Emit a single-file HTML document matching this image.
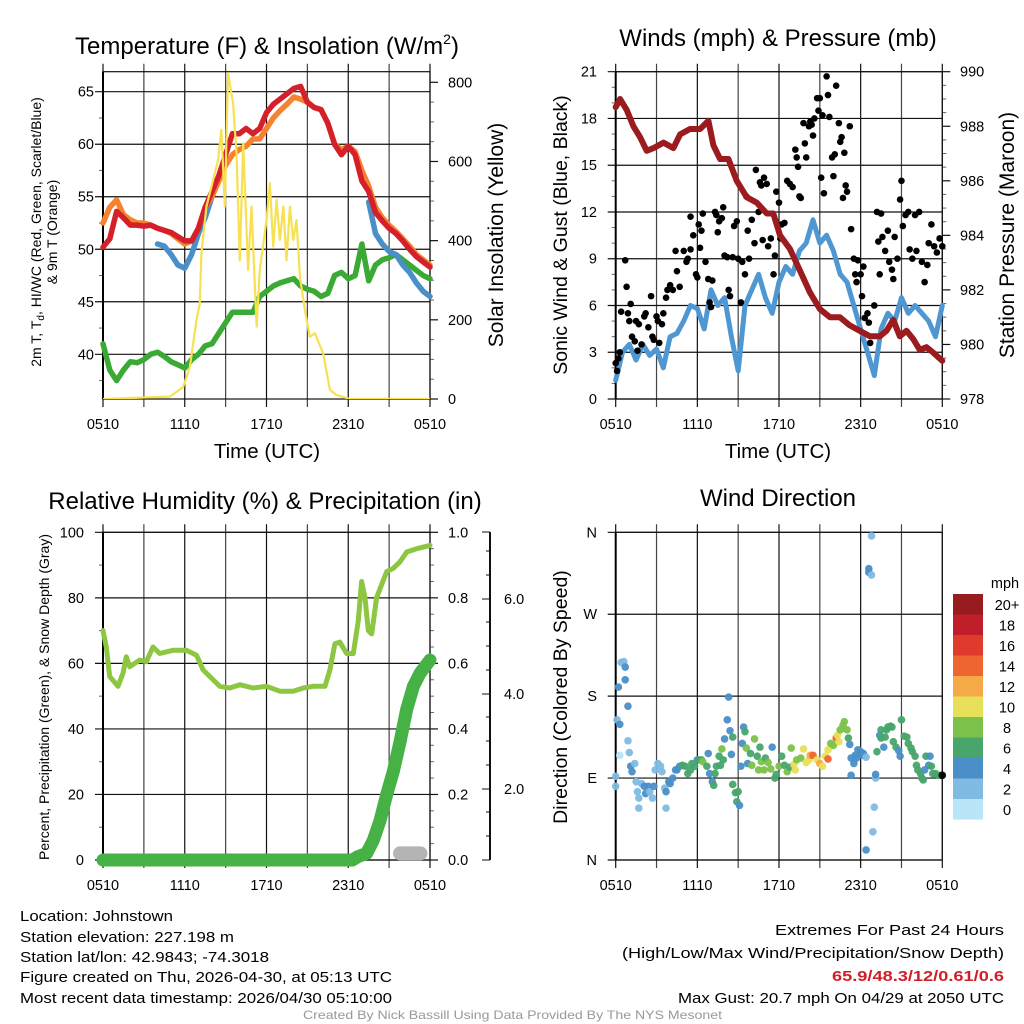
<!DOCTYPE html>
<html><head><meta charset="utf-8"><style>
html,body{margin:0;padding:0;background:#fff;}
svg{display:block;font-family:"Liberation Sans",sans-serif;}
</style></head><body>
<svg id="chart" width="1024" height="1024" viewBox="0 0 1024 1024" xmlns="http://www.w3.org/2000/svg">
<rect x="0" y="0" width="1024" height="1024" fill="#fff"/>
<!-- Titles -->
<text x="267" y="54" font-size="24" text-anchor="middle">Temperature (F) &amp; Insolation (W/m<tspan font-size="14" dy="-10">2</tspan><tspan dy="10">)</tspan></text>
<text x="778" y="46" font-size="24" text-anchor="middle">Winds (mph) &amp; Pressure (mb)</text>
<text x="265" y="509" font-size="24" text-anchor="middle">Relative Humidity (%) &amp; Precipitation (in)</text>
<text x="778" y="506" font-size="24" text-anchor="middle">Wind Direction</text>
<!-- axis titles -->
<text x="267" y="458" font-size="20.5" text-anchor="middle">Time (UTC)</text>
<text x="778" y="458" font-size="20.5" text-anchor="middle">Time (UTC)</text>
<text transform="translate(41,232) rotate(-90)" font-size="14" text-anchor="middle">2m T, T<tspan font-size="10" dy="3">d</tspan><tspan dy="-3">, HI/WC (Red, Green, Scarlet/Blue)</tspan></text>
<text transform="translate(57,232) rotate(-90)" font-size="14" text-anchor="middle">&amp; 9m T (Orange)</text>
<text transform="translate(503,235) rotate(-90)" font-size="21" text-anchor="middle">Solar Insolation (Yellow)</text>
<text transform="translate(567,235) rotate(-90)" font-size="19.5" text-anchor="middle">Sonic Wind &amp; Gust (Blue, Black)</text>
<text transform="translate(1014,235) rotate(-90)" font-size="21" text-anchor="middle">Station Pressure (Maroon)</text>
<text transform="translate(49,697) rotate(-90)" font-size="14" text-anchor="middle">Percent, Precipitation (Green), &amp; Snow Depth (Gray)</text>
<text transform="translate(567,697) rotate(-90)" font-size="19.5" text-anchor="middle">Direction (Colored By Speed)</text>
<g id="layer"></g>
<!-- footer -->
<g font-size="15">
<text x="20" y="921" textLength="153" lengthAdjust="spacingAndGlyphs">Location: Johnstown</text>
<text x="20" y="942" textLength="214" lengthAdjust="spacingAndGlyphs">Station elevation: 227.198 m</text>
<text x="20" y="962" textLength="249" lengthAdjust="spacingAndGlyphs">Station lat/lon: 42.9843; -74.3018</text>
<text x="20" y="982" textLength="372" lengthAdjust="spacingAndGlyphs">Figure created on Thu, 2026-04-30, at 05:13 UTC</text>
<text x="20" y="1003" textLength="372" lengthAdjust="spacingAndGlyphs">Most recent data timestamp: 2026/04/30 05:10:00</text>
</g>
<g font-size="15">
<text x="775" y="935" textLength="229" lengthAdjust="spacingAndGlyphs">Extremes For Past 24 Hours</text>
<text x="622" y="958" textLength="382" lengthAdjust="spacingAndGlyphs">(High/Low/Max Wind/Precipitation/Snow Depth)</text>
<text x="832" y="981" textLength="172" lengthAdjust="spacingAndGlyphs" fill="#d01f2a" font-weight="bold">65.9/48.3/12/0.61/0.6</text>
<text x="678" y="1003" textLength="326" lengthAdjust="spacingAndGlyphs">Max Gust: 20.7 mph On 04/29 at 2050 UTC</text>
</g>
<text x="303" y="1019" font-size="12" fill="#999" textLength="419" lengthAdjust="spacingAndGlyphs">Created By Nick Bassill Using Data Provided By The NYS Mesonet</text>
</svg>
<script>
const xTickHours = [0,3,6,9,12,15,18,21,24];
const xTickText = ["0510","","1110","","1710","","2310","","0510"];
const halfHour = [0,0.5,1,1.5,2,2.5,3,3.5,4,4.5,5,5.5,6,6.5,7,7.5,8,8.5,9,9.5,10,10.5,11,11.5,12,12.5,13,13.5,14,14.5,15,15.5,16,16.5,17,17.5,18,18.5,19,19.5,20,20.5,21,21.5,22,22.5,23,23.5,24];
const tempRed = [50.2,51,53.6,53,52.3,52.3,52.2,52.3,52,51.8,51.6,51.2,50.8,50.8,52,54,55.5,57,59,61,61,61.5,61,61.5,63,63.8,64.3,64.8,65.3,65.5,64,63.5,63.3,62,60,59,59.8,59,56.5,55.5,53.5,52.7,52,51.5,50.8,50,49.3,48.8,48.3];
const temp9m = [52.5,54,54.7,53.3,52.8,52.5,52.5,52.3,52,51.8,51.5,51,50.5,50.8,52,54,55,56.5,58,59,59.5,59.8,60.5,60.5,61.5,62.5,63.2,63.8,64.5,64.3,64,63.5,63.3,62,60,59.5,59.8,59.3,57.5,56,54,53,52.3,51.7,51,50.3,49.5,49,48.5];
const dewpoint = [41,38.5,37.5,38.5,39.3,39.2,39.5,40,40.2,39.8,39.3,39,38.7,39.5,40,40.8,41,42,43,44,44,44,44,45.5,46,46.5,46.8,47,47.2,46.5,46.2,46,45.5,45.8,47.5,47.8,47.2,47.5,50.5,47,48.5,49,49.2,49.5,49,48.5,48,47.5,47.2];
const heatIndex = [null,null,null,null,null,null,null,null,50.5,50.3,49.5,48.5,48.2,49.5,51.5,53,55,null,null,null,null,null,null,null,null,null,null,null,null,null,null,null,null,null,58,null,null,null,null,54.5,51.5,50.5,49.8,49.5,48.5,47.8,46.8,46,45.5];
const solarHours = [0,4.9,5.88,6.37,6.86,7.1,7.22,7.59,8.08,8.45,8.69,8.94,9.18,9.55,9.8,10.04,10.29,10.65,10.9,11.27,11.51,12.0,12.25,12.49,12.74,12.98,13.23,13.47,13.72,13.96,14.2,14.45,14.82,15.18,15.55,16.16,16.65,17.14,18.12,24];
const solarValues = [0,6,30,80,200,240,368,486,553,604,680,486,823,747,620,350,646,326,486,183,326,452,545,385,503,402,486,350,486,402,452,309,225,157,166,115,23,10,0,0];
const windSpeed = [1.2,3,3.5,2.5,3.5,2.8,3.2,2,4,4.2,5,6,5.8,4.5,7,6,6.5,4,1.8,6,7,8,6.5,5.5,7.5,8.5,8,9.5,10,11.5,10,10.5,9.5,8,7.5,6,4.5,3,1.5,4.5,5.5,5,6.5,5.5,6,5.5,5,4,6];
const pressureHours = [0,0.32,0.81,1.3,1.79,2.28,2.78,3.51,4.24,4.73,5.46,6.2,6.81,7.18,7.67,8.28,8.89,9.63,10.36,11.1,11.58,12.07,12.81,13.54,14.28,15.0,15.74,16.47,17.2,17.94,18.68,19.41,19.9,20.4,20.88,21.37,21.86,22.35,22.84,23.33,24];
const pressureValues = [988.7,989,988.6,988,987.6,987.1,987.2,987.4,987.2,987.7,987.9,987.9,988.2,987.3,986.8,986.8,986,985.4,985.2,984.8,984.8,984,983.5,982.7,981.9,981.3,981,981,980.7,980.5,980.3,980.3,980.5,980.9,980.3,980.5,980.2,979.8,979.9,979.7,979.4];
const gustHours = [0,0.1,0.2,0.3,0.4,0.7,0.8,0.9,1.0,1.1,1.2,1.4,1.5,1.6,1.7,1.9,2.1,2.2,2.4,2.6,2.7,2.8,3.0,3.1,3.2,3.4,3.5,3.7,3.8,4.0,4.2,4.4,4.5,4.7,5.0,5.2,5.3,5.5,5.5,5.7,5.9,6.0,6.1,6.2,6.3,6.4,6.6,6.8,6.9,7.0,7.1,7.3,7.4,7.5,7.6,7.8,7.9,8.0,8.2,8.3,8.4,8.6,8.7,8.9,9.0,9.2,9.3,9.5,9.6,9.7,9.8,10.0,10.2,10.3,10.5,10.6,10.7,10.8,10.9,11.1,11.2,11.4,11.6,11.7,11.8,12.0,12.1,12.2,12.4,12.6,12.8,13.0,13.2,13.3,13.4,13.5,13.6,13.8,13.9,14.0,14.2,14.3,14.4,14.5,14.6,14.8,14.9,15.0,15.1,15.2,15.3,15.5,15.6,15.7,15.9,16.0,16.1,16.2,16.4,16.5,16.6,16.7,16.8,16.9,17.0,17.2,17.3,17.5,17.6,17.7,17.8,18.0,18.1,18.2,18.3,18.5,18.6,18.7,19.0,19.2,19.3,19.4,19.5,19.6,19.8,20.0,20.1,20.3,20.4,20.5,20.7,20.9,21.0,21.1,21.3,21.5,21.6,21.8,22.0,22.1,22.3,22.5,22.7,22.9,23.0,23.2,23.4,23.6,23.8,24.0];
const gustValues = [2.3,1.8,2.6,3,5.6,8.9,7.2,5.5,5.0,6.1,4.0,3.7,5.0,3.1,4.8,3.5,5.3,5.5,4.6,6.6,4.0,3.8,5.3,5.0,3.6,4.8,5.5,6.5,7.0,7.3,7.0,9.5,8.2,7.2,9.5,8.8,9.0,9.6,11.7,10.5,8.0,7.8,11.2,9.7,10.8,11.9,8.8,7.7,6.2,5.9,7.6,12.0,11.8,10.7,11.4,11.6,12.3,9.2,9.1,7.0,6.6,9.1,11.1,11.4,9.0,6.2,8.8,8.0,13.0,10.8,9.0,11.5,10.0,14.7,12.0,13.9,13.7,10.2,14.2,13.8,9.8,10.3,8.0,9.2,13.3,12.6,10.3,11.2,11.3,14.0,13.8,13.6,16.0,15.5,14.9,13.0,12.9,17.7,16.4,15.5,17.5,17.8,17.6,16.9,18.0,19.3,18.5,19.3,14.2,18.2,13.2,20.7,19.5,18.1,15.5,14.3,15.7,20.1,17.7,16.5,16.8,12.9,15.8,13.7,13.3,17.5,10.9,9.0,8.0,7.5,8.9,8.0,6.6,8.5,5.2,5.5,4.9,3.6,6.0,12.0,10.1,8.0,11.9,10.4,9.5,10.8,8.8,8.3,7.7,10.4,9.0,12.8,14.0,11.1,11.8,12.0,9.6,9.0,11.8,9.5,12.0,8.8,7.5,8.6,10.0,11.2,9.8,9.4,10.3,9.8];
const rhHours = [0,0.24,0.49,1.1,1.47,1.71,1.96,2.69,3.18,3.67,4.16,5.14,6.12,6.86,7.35,7.84,8.57,9.31,10.04,11.02,12.0,12.98,13.96,14.7,15.43,16.29,16.65,17.02,17.39,17.88,18.37,18.74,18.98,19.23,19.47,19.72,20.08,20.45,20.82,21.31,21.8,22.29,23.02,24];
const rhValues = [70,65,56,53,57,62,59,61,60.5,65,63,64,64,62.5,58,56,53,52.5,53.5,52.5,53,51.5,51.5,52.5,53,53,58,66,66.5,63,63,73,85,80,70,69,80,84,88,89,91,94,95,96];
const precipHours = [0,18.3,18.7,19.35,19.84,20.33,20.82,21.31,21.8,22.29,22.78,23.27,24];
const precipValues = [0,0,0.01,0.02,0.06,0.12,0.2,0.27,0.36,0.46,0.53,0.57,0.61];
const snowHours = [21.8,23.3];
const snowValues = [0.02,0.02];
const dirHours = [0,0,0.2,0.1,0.3,0.3,0.4,0.6,0.7,0.7,0.9,0.9,1.0,1.1,1.2,1.4,1.5,1.6,1.7,1.7,1.9,2.1,2.2,2.4,2.5,2.7,2.8,2.9,3.1,3.3,3.4,3.6,3.7,3.7,3.9,4.0,4.2,4.4,4.5,4.7,4.9,5.1,5.3,5.5,5.6,5.8,6.0,6.1,6.3,6.4,6.7,6.8,6.9,7.1,7.2,7.3,7.4,7.6,7.7,7.8,7.9,8.0,8.2,8.3,8.4,8.5,8.6,8.6,8.8,8.9,9.0,9.1,9.2,9.3,9.4,9.5,9.6,9.7,9.9,10.0,10.2,10.4,10.5,10.6,10.7,10.9,11.0,11.2,11.4,11.5,11.7,11.8,12.0,12.2,12.4,12.6,12.8,12.9,13.1,13.2,13.3,13.6,13.8,14.0,14.2,14.3,14.5,14.8,15.0,15.2,15.4,15.6,15.6,15.8,16.0,16.2,16.3,16.4,16.5,16.7,16.8,17.0,17.1,17.2,17.3,17.3,17.5,17.6,17.7,17.8,18.0,18.1,18.2,18.4,18.4,18.6,18.6,18.8,18.8,18.9,19.0,19.1,19.1,19.2,19.4,19.5,19.5,19.7,19.8,19.9,20.0,20.2,20.3,20.4,20.6,20.8,20.9,21.0,21.2,21.4,21.5,21.7,21.8,22.0,22.1,22.2,22.4,22.5,22.6,22.7,22.8,23.0,23.1,23.2,23.3,23.5,23.7,23.9,24.0];
const dirValues = [81,92,190,154,149,115,217,218,212,198,169,131,118,103,97,106,86,75,68,57,84,81,73,81,75,68,81,99,106,103,97,79,57,75,86,84,90,99,99,103,104,103,95,99,106,103,110,110,110,108,103,117,95,86,82,95,103,114,104,122,110,133,154,179,142,116,135,83,74,64,75,60,103,128,146,141,123,106,117,104,133,114,99,124,108,99,112,107,100,124,90,94,103,114,104,97,102,123,105,99,110,112,122,107,110,115,115,110,106,103,114,121,111,128,126,134,137,130,143,148,152,143,134,127,112,93,106,115,112,121,119,115,117,113,11,316,320,313,356,31,58,90,94,119,137,143,134,124,135,143,146,147,146,130,124,120,114,154,136,135,128,123,119,114,104,99,95,90,88,99,114,104,114,103,95,95,93,93,93];
const dirSpeed = [1,1,3,2,3,0.5,2,2,4,4,3,2,2,4,3,2,2,2,2,1,2,3,3,4,2,2,3,2,2,2,2,2,2,3,4,4,4,4,4,4,5,6,6,6,6,6,4,6,6,8,6,4,4,4,6,6,6,6,6,7,6,4,4,4,4,3,6,6,6,6,6,4,4,4,4,6,8,4,6,8,8,6,8,6,8,8,6,8,8,4,6,6,8,6,6,8,6,8,10,10,8,8,9,10,10,12,13,10,12,10,10,10,13,8,8,14,10,10,8,8,8,8,6,4,4,4,4,4,4,4,4,4,3,2,4,3,3,1,1,2,2,2,3,6,4,6,6,4,6,6,6,6,6,6,6,4,4,6,6,6,6,6,6,6,6,6,6,6,6,4,6,3,4,6,6,6,6,6];
const speedBinLabels = ["20+","18","16","14","12","10","8","6","4","2","0"];
const speedBinColors = ["#971b1f","#bf1e2a","#df3a2b","#ef6530","#f5a947","#e7e05a","#7cc24a","#48a56c","#4a8fc7","#7fbbe3","#b8e5f7"];
const tempTicks = [40,45,50,55,60,65];
const solarTicks = [0,200,400,600,800];
const windTicks = [0,3,6,9,12,15,18,21];
const pressTicks = [978,980,982,984,986,988,990];
const rhTicks = [0,20,40,60,80,100];
const precipTicks = [0,0.2,0.4,0.6,0.8,1.0];
const snowAxisTicks = ["2.0","4.0","6.0"];
const dirTicks = [0,90,180,270,360];
const dirTickText = ["N","E","S","W","N"];

const NS="http://www.w3.org/2000/svg";
const layer=document.getElementById('layer');
function mk(tag,attrs,parent){const e=document.createElementNS(NS,tag);for(const k in attrs)e.setAttribute(k,attrs[k]);(parent||layer).appendChild(e);return e;}
function lin(d0,d1,r0,r1){return v=>r0+(v-d0)*(r1-r0)/(d1-d0);}

const P={tl:{x0:103,x1:430,y0:71.7,y1:399},tr:{x0:615.7,x1:942.3,y0:71.7,y1:399},bl:{x0:103,x1:430,y0:532.3,y1:860},br:{x0:615.7,x1:942.3,y0:532.3,y1:860}};
for(const k in P){P[k].x=lin(0,24,P[k].x0,P[k].x1);}

function frame(p,name,yTicks,ymap,yText,yLabelX,rTicks,rmap,rText,rLabelX,minorL,minorR){
  const g=mk('g',{});
  
  
  xTickHours.forEach((h,i)=>{const x=p.x(h);
    const l=mk('line',{x1:x,x2:x,y1:p.y0-8,y2:p.y1+8,stroke:(i%2? '#444':'#111'),'stroke-width':1.2},g);
    
    if(xTickText[i]){const t=mk('text',{x:x,y:p.y1+30,'font-size':14.5,'text-anchor':'middle'},g);t.textContent=xTickText[i];
      }
  });
  yTicks.forEach((v,i)=>{const y=ymap(v);
    const l=mk('line',{x1:p.x0-8,x2:p.x1,y1:y,y2:y,stroke:'#111','stroke-width':1.2},g);
    
    const t=mk('text',{x:yLabelX,y:y+5,'font-size':14.5,'text-anchor':'end'},g);t.textContent=yText?yText[i]:v;
    
  });
  (minorL||[]).forEach(v=>{const y=ymap(v);mk('line',{x1:p.x0-4,x2:p.x0,y1:y,y2:y,stroke:'#666'},g);});
  if(rTicks){rTicks.forEach((v,i)=>{const y=rmap(v);
    mk('line',{x1:p.x1,x2:p.x1+8,y1:y,y2:y,stroke:'#111','stroke-width':1.2},g);
    const t=mk('text',{x:rLabelX,y:y+5,'font-size':14.5,'text-anchor':'start'},g);t.textContent=rText?rText[i]:v;
    });
    (minorR||[]).forEach(v=>{const y=rmap(v);mk('line',{x1:p.x1,x2:p.x1+4,y1:y,y2:y,stroke:'#666'},g);});
  }
  mk('rect',{x:p.x0,y:p.y0,width:p.x1-p.x0,height:p.y1-p.y0,fill:'none',stroke:'#111','stroke-width':1.2},g);
  mk('line',{x1:p.x0,x2:p.x0,y1:p.y0,y2:p.y1,stroke:'#000','stroke-width':2},g);
  return g;
}
function path(xs,ys,xmap,ymap,attrs,name){
  let d='',pen=false;
  for(let i=0;i<xs.length;i++){ if(ys[i]===null){pen=false;continue;}
    d+=(pen?'L':'M')+xmap(xs[i]).toFixed(1)+','+ymap(ys[i]).toFixed(1);pen=true;}
  const e=mk('path',Object.assign({d:d,fill:'none','stroke-linejoin':'round','stroke-linecap':'round'},attrs));
  
  
  return e;
}

// ---- Panel 1: temperature ----
const p1=P.tl, yT=lin(40,65,354.3,91.7), yS=lin(0,800,399,82.3);
const minorTemp=[37.5,42.5,47.5,52.5,57.5,62.5];
const minorSolar=[50,100,150,250,300,350,450,500,550,650,700,750];
frame(p1,'temperature',tempTicks,yT,null,94,solarTicks,yS,null,448,minorTemp,minorSolar);
const cp1=mk('clipPath',{id:'c1'});mk('rect',{x:p1.x0,y:p1.y0,width:p1.x1-p1.x0,height:p1.y1-p1.y0},cp1);
path(halfHour,dewpoint,p1.x,yT,{stroke:'#3aaa35','stroke-width':5.5},'dewpoint-line');
path(halfHour,heatIndex,p1.x,yT,{stroke:'#4a8fc8','stroke-width':5.5},'heat-index-line');
path(halfHour,temp9m,p1.x,yT,{stroke:'#f5822e','stroke-width':5.5},'temp-9m-line');
path(halfHour,tempRed,p1.x,yT,{stroke:'#d4202a','stroke-width':5.5},'temp-2m-line');
path(solarHours,solarValues,p1.x,yS,{stroke:'#f8e150','stroke-width':2.2,'clip-path':'url(#c1)'},'solar-insolation-line');

// ---- Panel 2: winds ----
const p2=P.tr, yW=lin(0,21,399,71.7), yP=lin(978,990,399,71.7);
frame(p2,'winds',windTicks,yW,null,597,pressTicks,yP,null,960,[1,2,4,5,7,8,10,11,13,14,16,17,19,20],[978.5,979,979.5,980.5,981,981.5,982.5,983,983.5,984.5,985,985.5,986.5,987,987.5,988.5,989,989.5]);
path(halfHour,windSpeed,p2.x,yW,{stroke:'#4f97d2','stroke-width':5},'sonic-wind-line');
gustHours.forEach((h,i)=>{const c=mk('circle',{cx:p2.x(h),cy:yW(gustValues[i]),r:3.3,fill:'#000'});
  
  });
path(pressureHours,pressureValues,p2.x,yP,{stroke:'#9b1b1e','stroke-width':6},'pressure-line');

// ---- Panel 3: RH & precip ----
const p3=P.bl, yR=lin(0,100,860,532.3), yPr=lin(0,1,860,532.3);
frame(p3,'humidity',rhTicks,yR,null,84,precipTicks,yPr,["0.0","0.2","0.4","0.6","0.8","1.0"],448,[10,30,50,70,90],[0.05,0.1,0.15,0.25,0.3,0.35,0.45,0.5,0.55,0.65,0.7,0.75,0.85,0.9,0.95]);
const sa=mk('g',{});


mk('line',{x1:490,x2:490,y1:532,y2:860,stroke:'#111','stroke-width':2},sa);
mk('line',{x1:482,x2:490,y1:532,y2:532,stroke:'#111'},sa);mk('line',{x1:482,x2:490,y1:860,y2:860,stroke:'#111'},sa);
const snowTickY=[789,694,599];
snowAxisTicks.forEach((s,i)=>{mk('line',{x1:482,x2:490,y1:snowTickY[i],y2:snowTickY[i],stroke:'#111'},sa);
  const t=mk('text',{x:504,y:snowTickY[i]+5,'font-size':14.5},sa);t.textContent=s;
  });
[836,812,765,741,717,670,646,622,575,551].forEach(y=>mk('line',{x1:486,x2:490,y1:y,y2:y,stroke:'#111'},sa));
path(rhHours,rhValues,p3.x,yR,{stroke:'#8dc641','stroke-width':5},'relative-humidity-line');
path(snowHours,snowValues,p3.x,yPr,{stroke:'#b4b4b4','stroke-width':14},'snow-depth-line');
path(precipHours,precipValues,p3.x,yPr,{stroke:'#46b245','stroke-width':13},'precipitation-line');

// ---- Panel 4: wind direction ----
const p4=P.br, yD=lin(0,360,860,532.3);
frame(p4,'wind-direction',dirTicks,yD,dirTickText,597,null);
const binColor=s=>speedBinColors[10-Math.min(10,Math.max(0,Math.round(s/2)))];
dirHours.forEach((h,i)=>{const c=mk('circle',{cx:p4.x(h),cy:yD(dirValues[i]),r:3.8,fill:binColor(dirSpeed[i]),'fill-opacity':0.95});
  
  });
const cb=mk('g',{});


const cbT=mk('text',{x:1005,y:588,'font-size':14.5,'text-anchor':'middle'},cb);cbT.textContent='mph';
speedBinColors.forEach((c,i)=>{const y=594+i*20.5;
  const r=mk('rect',{x:953,y:y,width:30,height:20.5,fill:c},cb);
  
  const t=mk('text',{x:1007,y:y+16,'font-size':14.5,'text-anchor':'middle'},cb);t.textContent=speedBinLabels[i];
  });
</script>
</body></html>
